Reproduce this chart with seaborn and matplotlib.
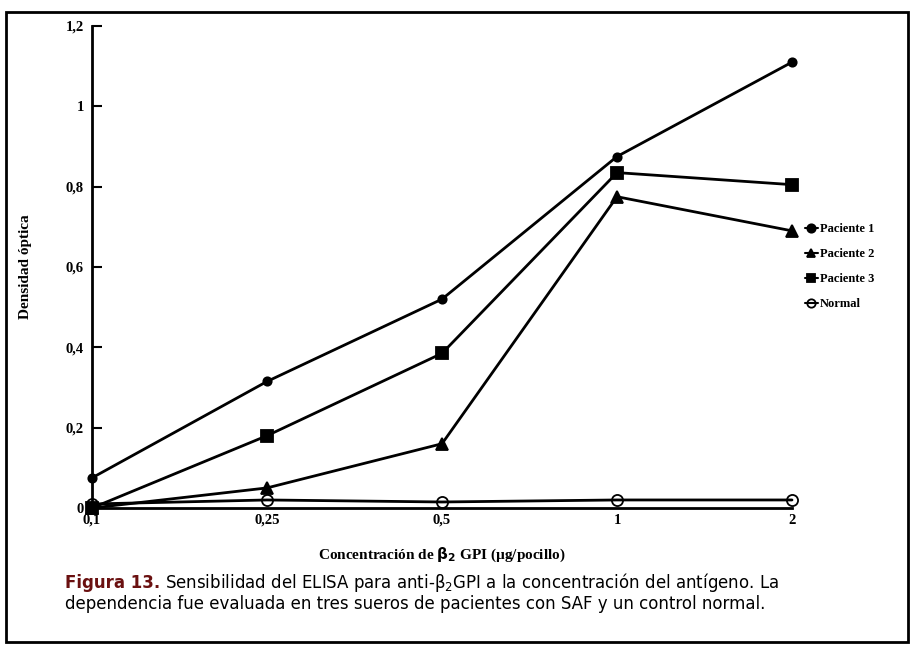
import matplotlib
matplotlib.use("Agg")
import matplotlib.pyplot as plt
import seaborn as sns
import pandas as pd
from matplotlib.patches import Rectangle

categorias = ["0,1", "0,25", "0,5", "1", "2"]
paciente1 = [0.075, 0.315, 0.52, 0.875, 1.11]
paciente2 = [0.0, 0.05, 0.16, 0.775, 0.69]
paciente3 = [0.0, 0.18, 0.385, 0.835, 0.805]
normal = [0.01, 0.02, 0.015, 0.02, 0.02]
yticks = [0, 0.2, 0.4, 0.6, 0.8, 1, 1.2]
ytick_labels = ["0", "0,2", "0,4", "0,6", "0,8", "1", "1,2"]

series = {"Paciente 1": paciente1, "Paciente 2": paciente2,
          "Paciente 3": paciente3, "Normal": normal}
estilos = {"Paciente 1": dict(marker="o", ms=6, mfc="black"),
           "Paciente 2": dict(marker="^", ms=8, mfc="black"),
           "Paciente 3": dict(marker="s", ms=8, mfc="black"),
           "Normal": dict(marker="o", ms=8, mfc="none")}

sns.set_theme(style="white")
plt.rcParams["font.family"] = ["Liberation Serif", "DejaVu Serif"]
plt.rcParams["text.color"] = "black"
plt.rcParams["axes.labelcolor"] = "black"
plt.rcParams["xtick.color"] = "black"
plt.rcParams["ytick.color"] = "black"

fig = plt.figure(figsize=(9.14, 6.54), dpi=100)
ax = fig.add_axes([92/914, 1-508/654, 700/914, 482/654])

for nombre, vals in series.items():
    df = pd.DataFrame({"x": range(len(categorias)), "y": vals})
    st = estilos[nombre]
    sns.lineplot(data=df, x="x", y="y", ax=ax, color="black", lw=2,
                 marker=st["marker"], markersize=st["ms"],
                 markerfacecolor=st["mfc"], markeredgecolor="black",
                 markeredgewidth=1.3, label=nombre, clip_on=False, zorder=3)

ax.set_xlim(0, len(categorias) - 1)
ax.set_ylim(0, 1.2)
ax.set_xticks(range(len(categorias)))
ax.set_xticklabels(categorias, fontsize=10.5, fontweight="bold")
ax.set_yticks(yticks)
ax.set_yticklabels(ytick_labels, fontsize=10.5, fontweight="bold")
ax.tick_params(axis="y", direction="in", length=7, width=1.5, pad=6, left=True)
ax.tick_params(axis="x", length=0, pad=4)
for s in ["top", "right"]:
    ax.spines[s].set_visible(False)
for s in ["left", "bottom"]:
    ax.spines[s].set_color("black")
    ax.spines[s].set_linewidth(2)

ax.set_xlabel("Concentración de $\\mathbf{\\beta_2}$ GPI (µg/pocillo)",
              fontsize=11, fontweight="bold", labelpad=14)
ax.set_ylabel("Densidad óptica", fontsize=11, fontweight="bold", labelpad=24)

leg = ax.legend(loc="upper left", bbox_to_anchor=(800/914, 1-218/654),
                bbox_transform=fig.transFigure, frameon=False,
                prop=dict(family=["Liberation Serif"], weight="bold", size=9),
                handlelength=1.0, handletextpad=0.2, labelspacing=1.05,
                borderaxespad=0)
for h in leg.legend_handles:
    h.set_markersize(6)
    h.set_linewidth(1.5)

cap_font = ["DejaVu Sans"]
t1 = fig.text(65/914, 1-583/654, "Figura 13.", fontsize=12, fontweight="bold",
              color="#6a1010", family=cap_font, va="center")
fig.canvas.draw()
bb = t1.get_window_extent()
fig.text((bb.x1 + 5)/914, 1-583/654,
         "Sensibilidad del ELISA para anti-β$_2$GPI a la concentración del antígeno. La",
         fontsize=12, family=cap_font, va="center", color="black")
fig.text(65/914, 1-604/654,
         "dependencia fue evaluada en tres sueros de pacientes con SAF y un control normal.",
         fontsize=12, family=cap_font, va="center", color="black")

fig.patches.append(Rectangle((6/914, 12/654), 902/914, 630/654,
                             transform=fig.transFigure, fill=False,
                             edgecolor="black", lw=2))

fig.savefig("out.png", dpi=100)
